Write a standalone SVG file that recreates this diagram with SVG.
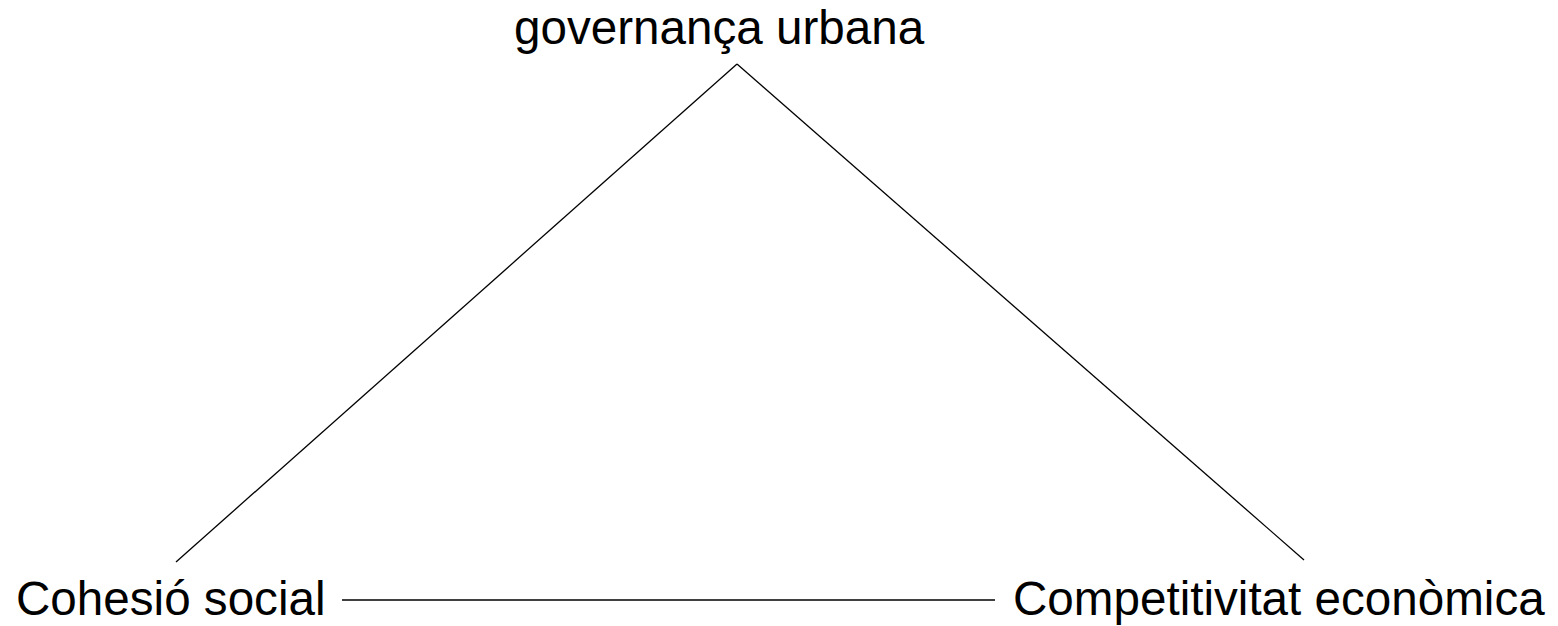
<svg xmlns="http://www.w3.org/2000/svg" width="1558" height="626" viewBox="0 0 1558 626">
<style>
text{font-family:"Liberation Sans",Arial,sans-serif;font-size:47.6px;fill:#000}
.c{stroke:#000;stroke-width:1.3;fill:none}
</style>
<rect width="1558" height="626" fill="#fff"/>
<g id="connectors">
<line class="c" x1="737" y1="64" x2="176" y2="562"/>
<line class="c" x1="737" y1="64" x2="1304" y2="560"/>
<line class="c" x1="342" y1="600" x2="995" y2="600"/>
</g>
<g id="governanca"><text x="514" y="44">governança urbana</text></g>
<g id="cohesio"><text x="16" y="615">Cohesió social</text></g>
<g id="competitivitat"><text x="1013" y="615">Competitivitat econòmica</text></g>
</svg>
